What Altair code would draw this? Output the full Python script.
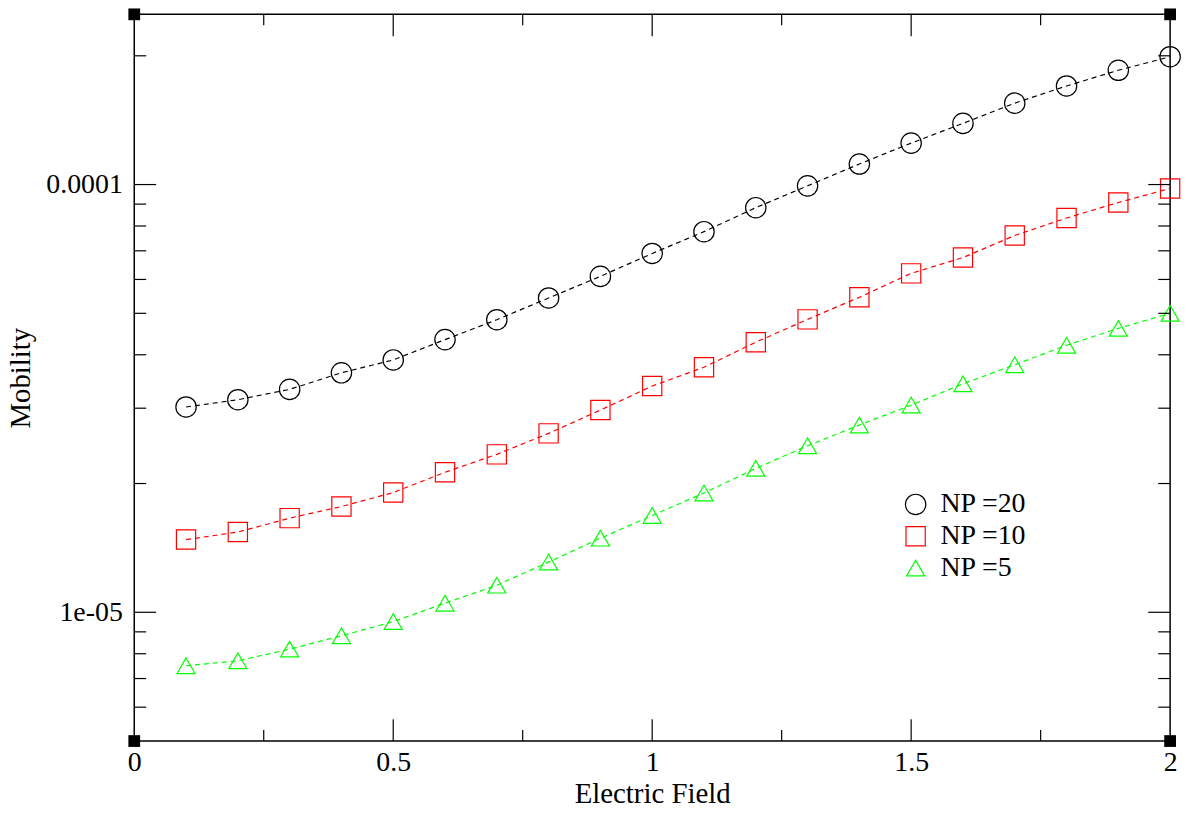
import altair as alt
import pandas as pd

# ---- data ----
field = [0.1, 0.2, 0.3, 0.4, 0.5, 0.6, 0.7, 0.8, 0.9, 1.0,
         1.1, 1.2, 1.3, 1.4, 1.5, 1.6, 1.7, 1.8, 1.9, 2.0]
np20 = [3.02e-5, 3.14e-5, 3.32e-5, 3.63e-5, 3.89e-5, 4.34e-5, 4.83e-5, 5.43e-5, 6.10e-5, 6.90e-5,
        7.76e-5, 8.83e-5, 9.93e-5, 1.117e-4, 1.25e-4, 1.39e-4, 1.55e-4, 1.70e-4, 1.85e-4, 1.99e-4]
np10 = [1.479e-5, 1.54e-5, 1.66e-5, 1.767e-5, 1.905e-5, 2.125e-5, 2.34e-5, 2.62e-5, 2.97e-5, 3.38e-5,
        3.74e-5, 4.28e-5, 4.84e-5, 5.45e-5, 6.20e-5, 6.75e-5, 7.60e-5, 8.35e-5, 9.08e-5, 9.79e-5]
np5 = [7.50e-6, 7.70e-6, 8.20e-6, 8.81e-6, 9.51e-6, 1.05e-5, 1.157e-5, 1.31e-5, 1.49e-5, 1.684e-5,
       1.90e-5, 2.17e-5, 2.45e-5, 2.74e-5, 3.05e-5, 3.42e-5, 3.79e-5, 4.21e-5, 4.61e-5, 5.00e-5]
series_names = ["NP =20", "NP =10", "NP =5"]
series_colors = ["#000000", "#ff0000", "#00ff00"]
series_shapes = ["circle", "square", "triangle-up"]
series_sizes = [420, 330, 441]

x_domain = [0, 2]
y_domain = [5e-6, 2.5e-4]
x_major = [0, 0.5, 1, 1.5, 2]
x_minor = [0.25, 0.75, 1.25, 1.75]
y_major = [1e-5, 1e-4]
y_major_labels = ["1e-05", "0.0001"]
y_minor = [6e-6, 7e-6, 8e-6, 9e-6, 2e-5, 3e-5, 4e-5, 5e-5, 6e-5, 7e-5, 8e-5, 9e-5, 2e-4]

W, H = 1042, 731
FONT = "Liberation Serif"

rows = []
for name, vals in zip(series_names, [np20, np10, np5]):
    for xv, yv in zip(field, vals):
        rows.append({"x": xv, "y": yv, "series": name})
df = pd.DataFrame(rows)

xs = alt.Scale(domain=x_domain, nice=False, zero=False)
ys = alt.Scale(type="log", domain=y_domain, nice=False)
cs = alt.Scale(domain=series_names, range=series_colors)

label_expr = " : ".join(
    [f"datum.value == {v} ? '{l}'" for v, l in zip(y_major, y_major_labels)] + ["''"]
)

base = alt.Chart(df)

lines = base.mark_line(strokeDash=[5, 4], strokeWidth=1.2).encode(
    x=alt.X("x:Q", scale=xs, axis=alt.Axis(
        title="Electric Field", values=x_major, format="~g", ticks=False, grid=False,
        domain=False, labelFont=FONT, labelFontSize=28, labelColor="black", labelPadding=8,
        titleFont=FONT, titleFontSize=29, titleFontWeight="normal", titleColor="black",
        titleBaseline="alphabetic", titleY=62, labelFlush=False)),
    y=alt.Y("y:Q", scale=ys, axis=alt.Axis(
        title="Mobility", values=y_major, labelExpr=label_expr, ticks=False, grid=False,
        domain=False, labelFont=FONT, labelFontSize=28, labelColor="black", labelPadding=12,
        titleFont=FONT, titleFontSize=29, titleFontWeight="normal", titleColor="black",
        titleAngle=270, titleBaseline="middle", titleAlign="center",
        titleX=-114, titleY=H / 2, labelFlush=False)),
    color=alt.Color("series:N", scale=cs),
    detail="series:N",
)

points = base.mark_point(filled=False, strokeWidth=1.2, opacity=1).encode(
    x=alt.X("x:Q", scale=xs),
    y=alt.Y("y:Q", scale=ys),
    color=alt.Color("series:N", scale=cs,
                    legend=alt.Legend(title=None, orient="none", legendX=772, legendY=479,
                                      labelFont=FONT, labelFontSize=28, labelColor="black",
                                      labelOffset=11, rowPadding=4, padding=0, symbolSize=380,
                                      symbolStrokeWidth=1.2)),
    shape=alt.Shape("series:N", scale=alt.Scale(domain=series_names, range=series_shapes)),
    size=alt.Size("series:N", scale=alt.Scale(domain=series_names, range=series_sizes)),
)

# tick marks (drawn inward, mirrored on all sides)
def yticks(vals, length):
    d = pd.DataFrame({"y": vals})
    left = alt.Chart(d).mark_rule(color="black", strokeWidth=1.2).encode(
        y=alt.Y("y:Q", scale=ys), x=alt.value(0), x2=alt.value(length))
    right = alt.Chart(d).mark_rule(color="black", strokeWidth=1.2).encode(
        y=alt.Y("y:Q", scale=ys), x=alt.value(W - length), x2=alt.value(W))
    return [left, right]

def xticks(vals, length):
    d = pd.DataFrame({"x": vals})
    bottom = alt.Chart(d).mark_rule(color="black", strokeWidth=1.2).encode(
        x=alt.X("x:Q", scale=xs), y=alt.value(H - length), y2=alt.value(H))
    top = alt.Chart(d).mark_rule(color="black", strokeWidth=1.2).encode(
        x=alt.X("x:Q", scale=xs), y=alt.value(0), y2=alt.value(length))
    return [bottom, top]

tick_layers = (yticks(y_major, 22) + yticks(y_minor, 12)
               + xticks(x_major[1:-1], 22) + xticks(x_minor, 11))

corners = pd.DataFrame({"x": [x_domain[0], x_domain[1], x_domain[0], x_domain[1]],
                        "y": [y_domain[0], y_domain[0], y_domain[1], y_domain[1]]})
corner_marks = alt.Chart(corners).mark_point(shape="square", filled=True, color="black",
                                             size=140, opacity=1, clip=False).encode(
    x=alt.X("x:Q", scale=xs), y=alt.Y("y:Q", scale=ys))

chart = alt.layer(lines, points, *tick_layers, corner_marks).properties(
    width=W, height=H,
    autosize=alt.AutoSizeParams(type="none"),
    padding={"left": 127, "top": 4, "right": 20, "bottom": 70},
    background="white",
).configure_view(stroke="black", strokeWidth=1.5)

chart.save("out.html", embed_options={"renderer": "svg", "actions": False})
